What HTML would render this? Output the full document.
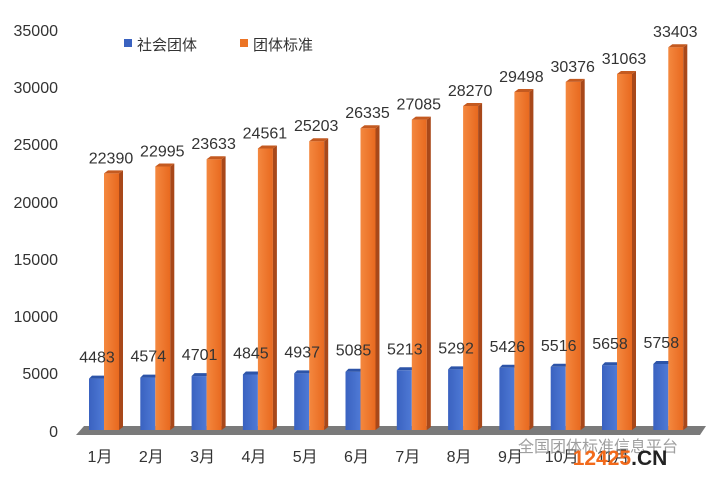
<!DOCTYPE html>
<html><head><meta charset="utf-8"><style>
body{margin:0;background:#fff;}
svg text{font-family:"Liberation Sans","Noto Sans CJK SC",sans-serif;}
</style></head><body>
<svg width="720" height="479" viewBox="0 0 720 479" xmlns="http://www.w3.org/2000/svg">
<defs>
<linearGradient id="o" x1="0" x2="1"><stop offset="0" stop-color="#f4883f"/><stop offset="1" stop-color="#e8691f"/></linearGradient>
<linearGradient id="b" x1="0" x2="1"><stop offset="0" stop-color="#3a62c0"/><stop offset="1" stop-color="#4f7ad6"/></linearGradient>
</defs>
<g font-size="16" fill="#333" text-anchor="end">
<text x="58" y="36">35000</text><text x="58" y="93">30000</text><text x="58" y="150">25000</text>
<text x="58" y="208">20000</text><text x="58" y="265">15000</text><text x="58" y="322">10000</text>
<text x="58" y="379">5000</text><text x="58" y="437">0</text>
</g>
<polygon points="76,435 700,435 706,426 84,426" fill="#7a7a7a"/>
<rect x="124" y="39" width="8" height="8" fill="#3a62c0"/>
<text x="137" y="50" font-size="15" fill="#333">社会团体</text>
<rect x="240" y="39" width="8" height="8" fill="#ec7425"/>
<text x="253" y="50" font-size="15" fill="#333">团体标准</text>
<g font-size="16" fill="#333" text-anchor="middle">
<g transform="translate(89,0)"><rect x="0" y="378.6" width="15" height="51.4" fill="url(#b)"/><polygon points="0,378.6 15,378.6 18,375.6 3,375.6" fill="#2d54a8"/><rect x="15" y="173.4" width="15" height="256.6" fill="url(#o)"/><polygon points="30,173.4 34,170.4 34,427 30,430" fill="#a8481a"/><polygon points="15,173.4 30,173.4 34,170.4 19,170.4" fill="#c45a20"/><text x="8" y="362.6">4483</text><text x="22" y="163.4">22390</text><text x="11" y="462">1月</text></g>
<g transform="translate(140.3,0)"><rect x="0" y="377.6" width="15" height="52.4" fill="url(#b)"/><polygon points="0,377.6 15,377.6 18,374.6 3,374.6" fill="#2d54a8"/><rect x="15" y="166.5" width="15" height="263.5" fill="url(#o)"/><polygon points="30,166.5 34,163.5 34,427 30,430" fill="#a8481a"/><polygon points="15,166.5 30,166.5 34,163.5 19,163.5" fill="#c45a20"/><text x="8" y="361.6">4574</text><text x="22" y="156.5">22995</text><text x="11" y="462">2月</text></g>
<g transform="translate(191.6,0)"><rect x="0" y="376.1" width="15" height="53.9" fill="url(#b)"/><polygon points="0,376.1 15,376.1 18,373.1 3,373.1" fill="#2d54a8"/><rect x="15" y="159.2" width="15" height="270.8" fill="url(#o)"/><polygon points="30,159.2 34,156.2 34,427 30,430" fill="#a8481a"/><polygon points="15,159.2 30,159.2 34,156.2 19,156.2" fill="#c45a20"/><text x="8" y="360.1">4701</text><text x="22" y="149.2">23633</text><text x="11" y="462">3月</text></g>
<g transform="translate(242.9,0)"><rect x="0" y="374.5" width="15" height="55.5" fill="url(#b)"/><polygon points="0,374.5 15,374.5 18,371.5 3,371.5" fill="#2d54a8"/><rect x="15" y="148.5" width="15" height="281.5" fill="url(#o)"/><polygon points="30,148.5 34,145.5 34,427 30,430" fill="#a8481a"/><polygon points="15,148.5 30,148.5 34,145.5 19,145.5" fill="#c45a20"/><text x="8" y="358.5">4845</text><text x="22" y="138.5">24561</text><text x="11" y="462">4月</text></g>
<g transform="translate(294.2,0)"><rect x="0" y="373.4" width="15" height="56.6" fill="url(#b)"/><polygon points="0,373.4 15,373.4 18,370.4 3,370.4" fill="#2d54a8"/><rect x="15" y="141.2" width="15" height="288.8" fill="url(#o)"/><polygon points="30,141.2 34,138.2 34,427 30,430" fill="#a8481a"/><polygon points="15,141.2 30,141.2 34,138.2 19,138.2" fill="#c45a20"/><text x="8" y="357.4">4937</text><text x="22" y="131.2">25203</text><text x="11" y="462">5月</text></g>
<g transform="translate(345.5,0)"><rect x="0" y="371.7" width="15" height="58.3" fill="url(#b)"/><polygon points="0,371.7 15,371.7 18,368.7 3,368.7" fill="#2d54a8"/><rect x="15" y="128.2" width="15" height="301.8" fill="url(#o)"/><polygon points="30,128.2 34,125.2 34,427 30,430" fill="#a8481a"/><polygon points="15,128.2 30,128.2 34,125.2 19,125.2" fill="#c45a20"/><text x="8" y="355.7">5085</text><text x="22" y="118.2">26335</text><text x="11" y="462">6月</text></g>
<g transform="translate(396.8,0)"><rect x="0" y="370.3" width="15" height="59.7" fill="url(#b)"/><polygon points="0,370.3 15,370.3 18,367.3 3,367.3" fill="#2d54a8"/><rect x="15" y="119.6" width="15" height="310.4" fill="url(#o)"/><polygon points="30,119.6 34,116.6 34,427 30,430" fill="#a8481a"/><polygon points="15,119.6 30,119.6 34,116.6 19,116.6" fill="#c45a20"/><text x="8" y="354.3">5213</text><text x="22" y="109.6">27085</text><text x="11" y="462">7月</text></g>
<g transform="translate(448.1,0)"><rect x="0" y="369.4" width="15" height="60.6" fill="url(#b)"/><polygon points="0,369.4 15,369.4 18,366.4 3,366.4" fill="#2d54a8"/><rect x="15" y="106" width="15" height="324" fill="url(#o)"/><polygon points="30,106 34,103 34,427 30,430" fill="#a8481a"/><polygon points="15,106 30,106 34,103 19,103" fill="#c45a20"/><text x="8" y="353.4">5292</text><text x="22" y="96">28270</text><text x="11" y="462">8月</text></g>
<g transform="translate(499.4,0)"><rect x="0" y="367.8" width="15" height="62.2" fill="url(#b)"/><polygon points="0,367.8 15,367.8 18,364.8 3,364.8" fill="#2d54a8"/><rect x="15" y="92" width="15" height="338" fill="url(#o)"/><polygon points="30,92 34,89 34,427 30,430" fill="#a8481a"/><polygon points="15,92 30,92 34,89 19,89" fill="#c45a20"/><text x="8" y="351.8">5426</text><text x="22" y="82">29498</text><text x="11" y="462">9月</text></g>
<g transform="translate(550.7,0)"><rect x="0" y="366.8" width="15" height="63.2" fill="url(#b)"/><polygon points="0,366.8 15,366.8 18,363.8 3,363.8" fill="#2d54a8"/><rect x="15" y="81.9" width="15" height="348.1" fill="url(#o)"/><polygon points="30,81.9 34,78.9 34,427 30,430" fill="#a8481a"/><polygon points="15,81.9 30,81.9 34,78.9 19,78.9" fill="#c45a20"/><text x="8" y="350.8">5516</text><text x="22" y="71.9">30376</text><text x="11" y="462">10月</text></g>
<g transform="translate(602,0)"><rect x="0" y="365.2" width="15" height="64.8" fill="url(#b)"/><polygon points="0,365.2 15,365.2 18,362.2 3,362.2" fill="#2d54a8"/><rect x="15" y="74" width="15" height="356" fill="url(#o)"/><polygon points="30,74 34,71 34,427 30,430" fill="#a8481a"/><polygon points="15,74 30,74 34,71 19,71" fill="#c45a20"/><text x="8" y="349.2">5658</text><text x="22" y="64">31063</text><text x="11" y="462">11月</text></g>
<g transform="translate(653.3,0)"><rect x="0" y="364" width="15" height="66" fill="url(#b)"/><polygon points="0,364 15,364 18,361 3,361" fill="#2d54a8"/><rect x="15" y="47.2" width="15" height="382.8" fill="url(#o)"/><polygon points="30,47.2 34,44.2 34,427 30,430" fill="#a8481a"/><polygon points="15,47.2 30,47.2 34,44.2 19,44.2" fill="#c45a20"/><text x="8" y="348">5758</text><text x="22" y="37.2">33403</text></g>
</g>
<text x="518" y="452" font-size="16" fill="#888" opacity="0.8">全国团体标准信息平台</text>
<text x="620" y="465" font-size="21" font-weight="bold" fill="#f26a1b" text-anchor="middle">12425<tspan fill="#222">.CN</tspan></text>
</svg>
</body></html>
